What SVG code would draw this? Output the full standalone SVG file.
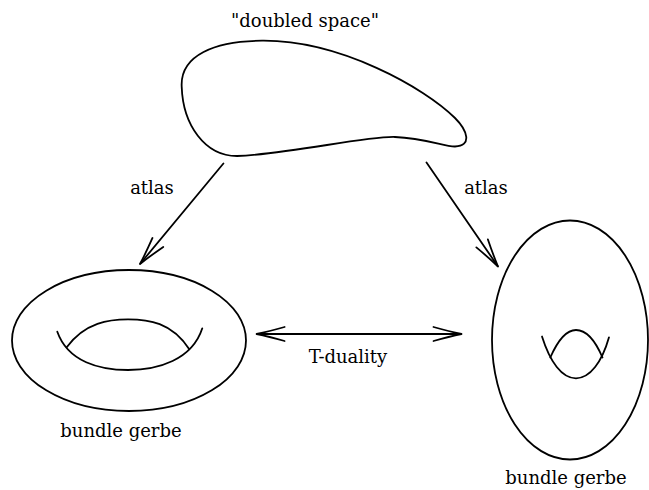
<svg xmlns="http://www.w3.org/2000/svg" width="649" height="490" viewBox="0 0 649 490">
<style>
.s{fill:none;stroke:#000;stroke-width:1.8;stroke-linecap:round;stroke-linejoin:round}
.t{font-family:"DejaVu Serif","Liberation Serif",serif;font-size:18px;fill:#000;text-anchor:middle}
</style>
<defs>
<marker id="ah" markerUnits="userSpaceOnUse" markerWidth="40" markerHeight="40" refX="0" refY="0" orient="auto-start-reverse" overflow="visible">
<path d="M-28,-7 Q-12,-2.5 0,0 Q-12,2.5 -28,7" fill="none" stroke="#000" stroke-width="1.8" stroke-linecap="round"/>
</marker>
</defs>
<rect width="649" height="490" fill="#fff"/>
<g id="doubled-space">
<path class="s" d="M262,40.7 C340,40 425,88 455,118 C468,131 472,146 455,146.5 C445,146.8 425,138 395,137 C365,136 290,154 237,156 C205,156 183,125 181.7,86.7 C180,55 215,41 262,40.7 Z"/>
<text class="t" x="305" y="27">"doubled space"</text>
</g>
<g id="left-gerbe">
<ellipse class="s" cx="129" cy="340.5" rx="117" ry="70.5"/>
<path class="s" d="M57.3,331.7 C68,362 100,370 128,370 C158,370 192,360 202.3,328.3"/>
<path class="s" d="M66.7,347.3 C85,322 110,319.3 128,319.3 C148,319.3 172,322 189.3,349.3"/>
<text class="t" x="121" y="437">bundle gerbe</text>
</g>
<g id="right-gerbe">
<ellipse class="s" cx="570" cy="340" rx="78" ry="119.5"/>
<path class="s" d="M542,336.5 C550,362 562,378.3 576,378.3 C590,378.3 602,362 609,337.3"/>
<path class="s" d="M550.3,357.5 C558,340 566,330 576,330 C586,330 595,340 602.5,357.5"/>
<text class="t" x="566" y="484">bundle gerbe</text>
</g>
<g id="connectors">
<line class="s" x1="223.4" y1="163.5" x2="140" y2="264" marker-end="url(#ah)"/>
<line class="s" x1="426.5" y1="162.5" x2="498" y2="266.5" marker-end="url(#ah)"/>
<line class="s" x1="256.6" y1="334" x2="461.5" y2="334" marker-start="url(#ah)" marker-end="url(#ah)"/>
<text class="t" x="152" y="194">atlas</text>
<text class="t" x="486" y="194">atlas</text>
<text class="t" x="348" y="362.5">T-duality</text>
</g>
</svg>
